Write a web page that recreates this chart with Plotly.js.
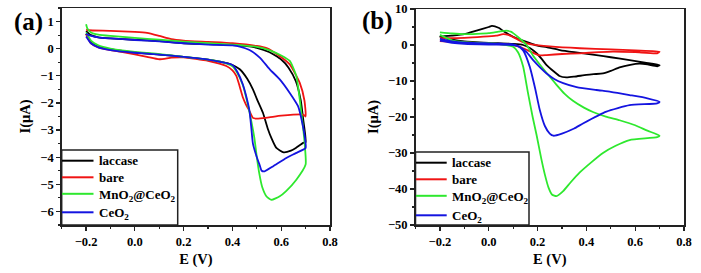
<!DOCTYPE html>
<html><head><meta charset="utf-8">
<script src="https://cdn.plot.ly/plotly-3.0.1.min.js"></script>
<style>html,body{margin:0;padding:0;background:#fff}#chart{width:701px;height:273px}</style>
</head><body><div id="chart"></div>
<script>
// Series names
const seriesNames = ['laccase', 'bare', 'MnO<sub>2</sub>@CeO<sub>2</sub>', 'CeO<sub>2</sub>'];
const seriesColors = ['#000000', '#f01414', '#2ee82e', '#1414e0'];

// Panel (a) — CV loops (E in V, I in µA)
const aLaccaseE = [-0.2,-0.18,-0.15,-0.1,0,0.1,0.2,0.3,0.4,0.45,0.5,0.55,0.6,0.63,0.66,0.68,0.69,0.7,0.69,0.66,0.64,0.61,0.58,0.56,0.545,0.525,0.5,0.484,0.46,0.43,0.4,0.35,0.3,0.2,0.1,0,-0.1,-0.15,-0.18,-0.2];
const aLaccaseI = [0.65,0.5,0.42,0.38,0.33,0.28,0.2,0.17,0.13,0.1,0.03,-0.12,-0.4,-0.7,-1.2,-1.9,-2.6,-3.45,-3.47,-3.66,-3.76,-3.82,-3.66,-3.3,-2.95,-2.36,-1.85,-1.5,-1.1,-0.76,-0.6,-0.48,-0.4,-0.3,-0.22,-0.14,-0.02,0.08,0.22,0.55];

const aBareE = [-0.2,-0.19,-0.1,0,0.05,0.1,0.15,0.2,0.3,0.4,0.5,0.54,0.59,0.635,0.676,0.695,0.7,0.69,0.6,0.55,0.5,0.484,0.47,0.455,0.443,0.43,0.416,0.4,0.375,0.3,0.2,0.15,0.1,0.05,0,-0.1,-0.15,-0.18,-0.2];
const aBareI = [0.7,0.68,0.66,0.62,0.58,0.47,0.35,0.3,0.25,0.2,0.1,0.02,-0.25,-0.58,-1.26,-1.9,-2.5,-2.43,-2.47,-2.53,-2.58,-2.55,-2.3,-2.05,-1.8,-1.4,-1.0,-0.8,-0.64,-0.45,-0.32,-0.33,-0.39,-0.3,-0.21,-0.05,0.05,0.2,0.55];

const aMnCeE = [-0.2,-0.195,-0.18,-0.15,-0.1,0,0.1,0.2,0.3,0.4,0.5,0.55,0.6,0.635,0.662,0.676,0.689,0.697,0.7,0.662,0.62,0.594,0.56,0.54,0.522,0.51,0.5,0.49,0.478,0.464,0.443,0.42,0.4,0.35,0.3,0.2,0.1,0,-0.1,-0.15,-0.18,-0.2];
const aMnCeI = [0.9,0.75,0.6,0.52,0.47,0.4,0.33,0.26,0.2,0.15,0.07,-0.05,-0.25,-0.45,-1.01,-1.87,-2.86,-3.6,-4.27,-4.83,-5.25,-5.44,-5.57,-5.45,-5.1,-4.6,-4.0,-3.3,-2.7,-2.1,-1.35,-0.9,-0.65,-0.48,-0.4,-0.3,-0.2,-0.12,0.0,0.12,0.3,0.6];

const aCeE = [-0.2,-0.19,-0.15,-0.1,0,0.1,0.2,0.3,0.4,0.43,0.47,0.512,0.553,0.594,0.635,0.669,0.689,0.7,0.7,0.66,0.621,0.566,0.532,0.52,0.512,0.5,0.484,0.478,0.47,0.455,0.442,0.42,0.4,0.3,0.2,0.1,0,-0.1,-0.15,-0.18,-0.2];
const aCeI = [0.55,0.5,0.42,0.38,0.32,0.27,0.2,0.15,0.12,0.08,-0.05,-0.33,-0.76,-1.13,-1.63,-2.12,-2.86,-3.5,-3.66,-3.85,-4.03,-4.34,-4.52,-4.5,-4.3,-4.0,-3.5,-2.98,-2.3,-1.7,-1.3,-0.85,-0.6,-0.4,-0.3,-0.22,-0.15,-0.05,0.05,0.2,0.45];

// Panel (b)
const bLaccaseE = [-0.2,-0.15,-0.1,-0.05,0,0.013,0.04,0.073,0.1,0.14,0.2,0.237,0.291,0.35,0.441,0.5,0.577,0.64,0.7,0.69,0.65,0.618,0.58,0.536,0.5,0.468,0.43,0.4,0.35,0.318,0.29,0.277,0.257,0.237,0.216,0.196,0.17,0.141,0.1,0,-0.1,-0.15,-0.2];
const bLaccaseI = [2.3,2.6,3.0,4.0,5.0,5.3,4.8,3.3,2.3,1.2,-0.2,-0.6,-1.4,-2.0,-2.8,-3.4,-4.2,-4.9,-5.6,-5.9,-5.4,-5.2,-5.5,-6.2,-7.2,-7.9,-8.1,-8.3,-8.8,-9.0,-8.6,-7.9,-6.8,-5.6,-3.8,-2.3,-0.9,0.0,0.3,0.6,1.0,1.5,2.3];

const bBareE = [-0.2,-0.1,-0.023,0.03,0.059,0.08,0.1,0.141,0.18,0.25,0.373,0.5,0.6,0.7,0.69,0.6,0.509,0.45,0.373,0.3,0.237,0.21,0.196,0.17,0.141,0.1,0,-0.1,-0.2];
const bBareI = [1.9,2.0,2.3,2.6,3.0,2.8,2.2,0.8,0.1,-0.4,-0.9,-1.2,-1.5,-1.85,-2.3,-2.0,-1.85,-2.0,-2.3,-2.5,-2.8,-2.9,-2.6,-1.8,-0.9,0.0,0.4,0.7,1.1];

const bMnCeE = [-0.2,-0.15,-0.1,-0.05,0,0.04,0.073,0.09,0.1,0.127,0.155,0.182,0.21,0.24,0.277,0.31,0.345,0.39,0.427,0.48,0.536,0.6,0.65,0.7,0.69,0.577,0.52,0.468,0.42,0.373,0.335,0.305,0.277,0.26,0.245,0.23,0.215,0.196,0.18,0.16,0.141,0.12,0.1,0.05,0,-0.1,-0.15,-0.2];
const bMnCeI = [3.5,3.2,3.0,3.1,3.3,3.7,4.0,3.7,3.3,1.8,0.0,-3.0,-5.5,-8.0,-11.0,-13.5,-15.5,-17.4,-18.6,-19.9,-20.9,-22.3,-23.8,-25.2,-25.6,-26.4,-28.0,-30.0,-32.6,-35.4,-38.2,-40.6,-42.0,-41.6,-39.6,-36.0,-31.5,-25.0,-20.0,-13.0,-6.0,-2.0,-0.5,0.2,0.5,0.8,1.3,2.8];

const bCeE = [-0.2,-0.15,-0.09,0,0.05,0.1,0.127,0.155,0.182,0.21,0.237,0.27,0.305,0.36,0.441,0.5,0.577,0.65,0.7,0.69,0.577,0.482,0.386,0.35,0.3,0.265,0.25,0.23,0.209,0.19,0.168,0.141,0.12,0.1,0,-0.1,-0.15,-0.2];
const bCeI = [1.7,1.0,0.65,0.45,0.35,0.2,-0.5,-2.0,-4.2,-6.2,-7.9,-9.5,-10.6,-11.7,-12.5,-13.0,-13.9,-14.8,-15.8,-16.2,-16.7,-18.5,-21.8,-23.2,-24.6,-25.2,-24.6,-22.5,-18.0,-12.0,-6.0,-1.5,-0.3,0.0,0.1,0.3,0.6,1.2];

// Tick labels
const xTickVals = [-0.2, 0.0, 0.2, 0.4, 0.6, 0.8];
const xTickText = ['\u22120.2', '0.0', '0.2', '0.4', '0.6', '0.8'];
const aYTickVals = [-6, -5, -4, -3, -2, -1, 0, 1];
const aYTickText = ['\u22126', '\u22125', '\u22124', '\u22123', '\u22122', '\u22121', '0', '1'];
const bYTickVals = [-50, -40, -30, -20, -10, 0, 10];
const bYTickText = ['\u221250', '\u221240', '\u221230', '\u221220', '\u221210', '0', '10'];

const FONT = 'Liberation Serif';
const B = s => '<b>' + s + '</b>';
const aE = [aLaccaseE, aBareE, aMnCeE, aCeE], aI = [aLaccaseI, aBareI, aMnCeI, aCeI];
const bE = [bLaccaseE, bBareE, bMnCeE, bCeE], bI = [bLaccaseI, bBareI, bMnCeI, bCeI];

const traces = [];
for (let k = 0; k < 4; k++) {
  traces.push({x: aE[k], y: aI[k], name: seriesNames[k], type: 'scatter', mode: 'lines', showlegend: false,
    line: {color: seriesColors[k], width: 1.8, shape: 'spline', smoothing: 0.5}, xaxis: 'x', yaxis: 'y'});
}
for (let k = 0; k < 4; k++) {
  traces.push({x: bE[k], y: bI[k], name: seriesNames[k], type: 'scatter', mode: 'lines', showlegend: false,
    line: {color: seriesColors[k], width: 1.8, shape: 'spline', smoothing: 0.5}, xaxis: 'x2', yaxis: 'y2'});
}

const W = 701, H = 273;
const px = v => v / W, py = v => 1 - v / H;
const tickFont = {family: FONT, size: 12.5, color: '#000', weight: 'bold'};
const titleFont = {family: FONT, size: 14.5, color: '#000', weight: 'bold'};
function xAxis(domain, anchor) {
  return {domain: domain, anchor: anchor, range: [-0.3, 0.8], tickvals: xTickVals, ticktext: xTickText.map(B),
    ticks: 'outside', ticklen: 4, tickwidth: 1.2, tickcolor: '#222', showline: true, linecolor: '#222', linewidth: 1.5,
    mirror: true, showgrid: false, zeroline: false, tickfont: tickFont,
    minor: {dtick: 0.1, tick0: 0, ticks: 'outside', ticklen: 2.5, tickcolor: '#222', showgrid: false},
    title: {text: B('E (V)'), font: titleFont, standoff: 6}};
}
function yAxis(domain, anchor, range, tv, tt, mdtick) {
  return {domain: domain, anchor: anchor, range: range, tickvals: tv, ticktext: tt.map(B),
    ticks: 'outside', ticklen: 4, tickwidth: 1.2, tickcolor: '#222', showline: true, linecolor: '#222', linewidth: 1.5,
    mirror: true, showgrid: false, zeroline: false, tickfont: tickFont,
    minor: {dtick: mdtick, tick0: 0, ticks: 'outside', ticklen: 2.5, tickcolor: '#222', showgrid: false},
    title: {text: B('I(\u03bcA)'), font: titleFont, standoff: 6}};
}

// Legend drawn as box + line samples + texts (pixel layout of the reference)
const legendFont = {family: FONT, size: 13, color: '#000', weight: 'bold'};
const legA = {x0: 61.7, x1: 177.7, top: 150, lineX: [62, 93.5], textX: 97, rows: [160.7, 177.3, 193.8, 212.3]};
const legB = {x0: 415.5, x1: 529, top: 152, lineX: [416, 446.7], textX: 450, rows: [162.7, 179.3, 195.8, 215.3]};
const shapes = [], annotations = [];
[legA, legB].forEach(L => {
  shapes.push({type: 'rect', xref: 'paper', yref: 'paper', x0: px(L.x0), x1: px(L.x1), y0: py(225), y1: py(L.top),
    line: {color: '#222', width: 1.5}, fillcolor: 'rgba(0,0,0,0)'});
  for (let k = 0; k < 4; k++) {
    shapes.push({type: 'line', xref: 'paper', yref: 'paper', x0: px(L.lineX[0]), x1: px(L.lineX[1]), y0: py(L.rows[k]), y1: py(L.rows[k]),
      line: {color: seriesColors[k], width: 2}});
    annotations.push({text: B(seriesNames[k]), xref: 'paper', yref: 'paper', x: px(L.textX), y: py(L.rows[k] + (k >= 2 ? 1.5 : 0)),
      xanchor: 'left', yanchor: 'middle', showarrow: false, font: legendFont});
  }
});
annotations.push({text: B('(a)'), xref: 'paper', yref: 'paper', x: px(28), y: py(22), xanchor: 'center', yanchor: 'middle', showarrow: false, font: {family: FONT, size: 25, color: '#000', weight: 'bold'}});
annotations.push({text: B('(b)'), xref: 'paper', yref: 'paper', x: px(377), y: py(21), xanchor: 'center', yanchor: 'middle', showarrow: false, font: {family: FONT, size: 25, color: '#000', weight: 'bold'}});

const layout = {
  width: W, height: H, margin: {l: 0, r: 0, t: 0, b: 0}, paper_bgcolor: '#fff', plot_bgcolor: '#fff',
  xaxis: xAxis([px(61.7), px(330)], 'y'),
  yaxis: yAxis([py(225), py(8)], 'x', [-6.5, 1.5], aYTickVals, aYTickText, 0.5),
  xaxis2: xAxis([px(415.5), px(684)], 'y2'),
  yaxis2: yAxis([py(225), py(9)], 'x2', [-50, 10], bYTickVals, bYTickText, 5),
  showlegend: false, shapes: shapes, annotations: annotations
};
Plotly.newPlot('chart', traces, layout, {staticPlot: true, displayModeBar: false});
</script></body></html>
